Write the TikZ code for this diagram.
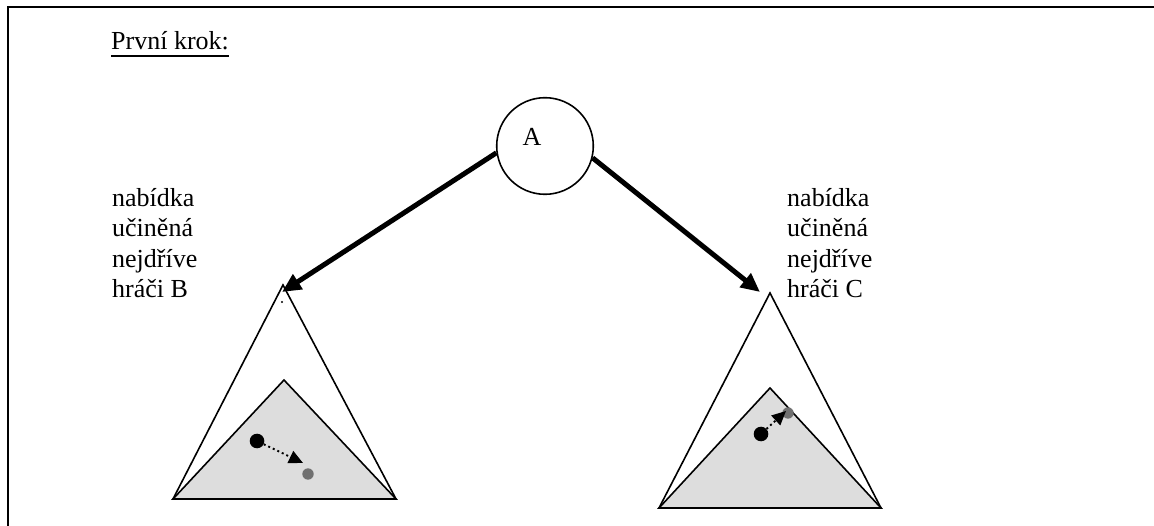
\documentclass[tikz,border=0pt]{standalone}
\usepackage{fontspec}
\setmainfont{Liberation Serif}
\usetikzlibrary{arrows.meta}
\definecolor{fillgrey}{RGB}{221,221,221}
\definecolor{dotgrey}{RGB}{112,112,112}
\begin{document}
\begin{tikzpicture}[x=1pt,y=-1pt,
  txt/.style={font=\fontsize{26}{30.5}\selectfont, inner sep=0pt},
  lbl/.style={txt, align=left, anchor=north west},
  bigarrow/.style={line width=5pt, -{Triangle[length=19pt,width=17pt]}},
  tri/.style={draw, line width=1.6pt, line join=miter},
  shade/.style={tri, fill=fillgrey},
  dotarrow/.style={line width=1.9pt, dash pattern=on 2pt off 3pt, -{Triangle[length=14pt,width=13pt]}},
  bigdot/.style={circle, fill=black, inner sep=0pt, minimum size=14.6pt},
  greydot/.style={circle, fill=dotgrey, inner sep=0pt, minimum size=11.4pt}]
\useasboundingbox (0,0) rectangle (1154,526);
% frame
\draw[line width=1.5pt] (8,526) -- (8,7) -- (1154,7);
% title
\node[txt, anchor=base west] (title) at (111,50) {První krok:};
\draw[line width=2pt] ([yshift=-6.5pt]title.base west) -- ([yshift=-6.5pt]title.base east);
% root
\node[draw, circle, line width=1.6pt, minimum size=96.6pt, inner sep=0pt] (A) at (545,146) {};
\node[txt] (Alab) at (532,137) {A};
% labels
\node[lbl] (labB) at (112,188) {nabídka\\učiněná\\nejdříve\\hráči B};
\node[lbl] (labC) at (787,188) {nabídka\\učiněná\\nejdříve\\hráči C};
% left subtree
\coordinate (LT) at (283,285);
\coordinate (LBL) at (173,499);
\coordinate (LBR) at (396,499);
\coordinate (LI) at (284,380);
\draw[tri] (LBL) -- (LT) -- (LBR) -- cycle;
\draw[shade] (LBL) -- (LI) -- (LBR) -- cycle;
\coordinate (tipL) at (282,292);
\fill (282,302) circle (1.1pt);
% right subtree
\coordinate (RT) at (770,293);
\coordinate (RBL) at (659,508);
\coordinate (RBR) at (881,508);
\coordinate (RI) at (770,388);
\draw[tri] (RBL) -- (RT) -- (RBR) -- cycle;
\draw[shade] (RBL) -- (RI) -- (RBR) -- cycle;
\coordinate (tipR) at (760,292);
% arrows from root
\draw[bigarrow] (A.188) -- (tipL);
\draw[bigarrow] (A.346) -- (tipR);
% left dots
\node[greydot] (gL) at (308,474) {};
\node[bigdot] (bL) at (257,441) {};
\coordinate (dL) at (303,463);
\draw[dotarrow] (bL) -- (dL);
% right dots
\node[greydot] (gR) at (788,413) {};
\node[bigdot] (bR) at (761,434) {};
\coordinate (dR) at (786,411);
\draw[dotarrow] (bR) -- (dR);
\end{tikzpicture}
\end{document}
